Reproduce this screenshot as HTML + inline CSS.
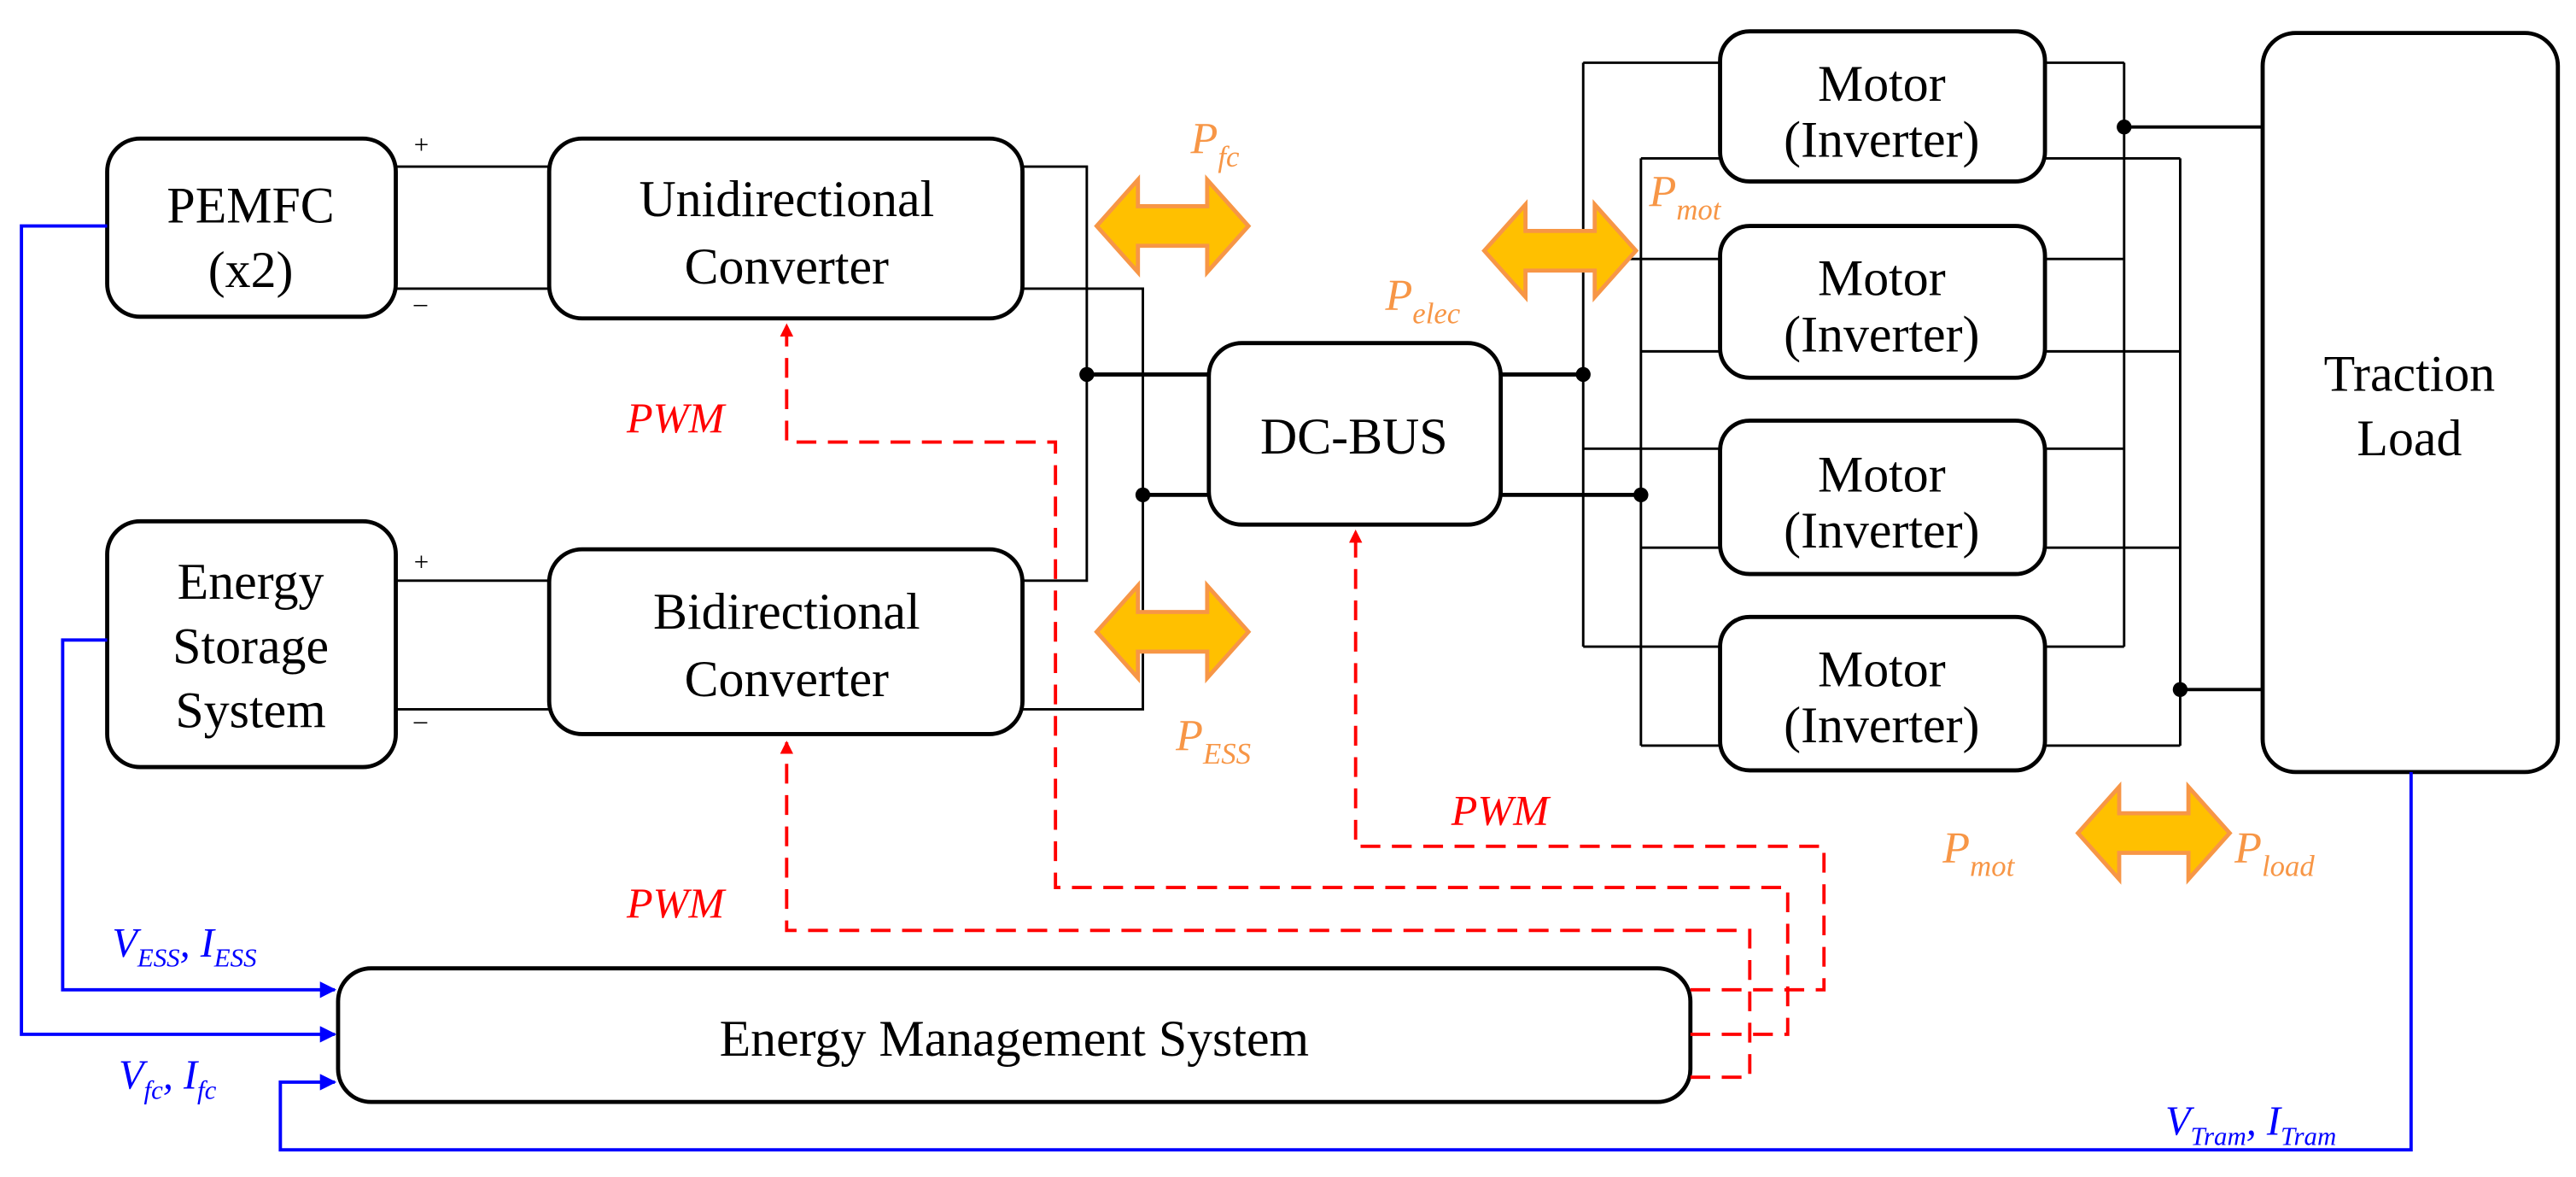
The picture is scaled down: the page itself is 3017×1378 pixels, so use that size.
<!DOCTYPE html>
<html><head><meta charset="utf-8"><style>html,body{margin:0;padding:0;background:#fff}svg{display:block}</style></head>
<body>
<svg width="3017" height="1378" viewBox="0 0 1562 713.5" preserveAspectRatio="none" xmlns="http://www.w3.org/2000/svg" font-family="'Liberation Serif', serif">
<defs>
<marker id="ar" markerWidth="8" markerHeight="8" refX="7" refY="4" orient="auto" markerUnits="userSpaceOnUse"><path d="M0,0 L8,4 L0,8 Z" fill="#ff0000"/></marker>
<marker id="ab" markerWidth="10" markerHeight="10" refX="9" refY="5" orient="auto" markerUnits="userSpaceOnUse"><path d="M0,0 L10,5 L0,10 Z" fill="#0000ff"/></marker>
</defs>
<g fill="none" stroke="#000" stroke-width="1.5">
<path d="M240,101H333 M240,175H333 M240,352H333 M240,430H333"/>
<path d="M620,101H659V352H620 M620,175H693V430H620"/>
<path d="M659,227H733 M693,300H733 M910,227H960 M910,300H995" stroke-width="2.5"/>
<path d="M960,38V392 M995,96V452"/>
<path d="M960,38H1043 M995,96H1043 M960,157H1043 M995,213H1043 M960,272H1043 M995,332H1043 M960,392H1043 M995,452H1043"/>
<path d="M1288,38V392 M1322,96V452"/>
<path d="M1240,38H1288 M1240,96H1322 M1240,157H1288 M1240,213H1322 M1240,272H1288 M1240,332H1322 M1240,392H1288 M1240,452H1322"/>
<path d="M1288,77H1372 M1322,418H1372" stroke-width="2"/>
</g>
<g fill="#000">
<circle cx="659" cy="227" r="4.5"/><circle cx="693" cy="300" r="4.5"/>
<circle cx="960" cy="227" r="4.5"/><circle cx="995" cy="300" r="4.5"/>
<circle cx="1288" cy="77" r="4.5"/><circle cx="1322" cy="418" r="4.5"/>
</g>
<g fill="#fff" stroke="#000" stroke-width="2.5">
<rect x="65" y="84" width="175" height="108" rx="20"/>
<rect x="333" y="84" width="287" height="109" rx="20"/>
<rect x="65" y="316" width="175" height="149" rx="20"/>
<rect x="333" y="333" width="287" height="112" rx="20"/>
<rect x="733" y="208" width="177" height="110" rx="20"/>
<rect x="1043" y="19" width="197" height="91" rx="18"/>
<rect x="1043" y="137" width="197" height="92" rx="18"/>
<rect x="1043" y="255" width="197" height="93" rx="18"/>
<rect x="1043" y="374" width="197" height="93" rx="18"/>
<rect x="1372" y="20" width="179" height="448" rx="20"/>
<rect x="205" y="587" width="820" height="81" rx="20"/>
</g>
<g font-size="31" text-anchor="middle" fill="#000">
<text x="152" y="135">PEMFC</text><text x="152" y="174">(x2)</text>
<text x="477" y="131">Unidirectional</text><text x="477" y="172">Converter</text>
<text x="152" y="363">Energy</text><text x="152" y="402">Storage</text><text x="152" y="441">System</text>
<text x="477" y="381">Bidirectional</text><text x="477" y="422">Converter</text>
<text x="821" y="275">DC-BUS</text>
<text x="1141" y="61">Motor</text><text x="1141" y="95">(Inverter)</text>
<text x="1141" y="179">Motor</text><text x="1141" y="213">(Inverter)</text>
<text x="1141" y="298">Motor</text><text x="1141" y="332">(Inverter)</text>
<text x="1141" y="416">Motor</text><text x="1141" y="450">(Inverter)</text>
<text x="1461" y="237">Traction</text><text x="1461" y="276">Load</text>
<text x="615" y="640">Energy Management System</text>
</g>
<g font-size="16" fill="#000"><text x="251" y="93">+</text><text x="251" y="189">–</text><text x="251" y="346">+</text><text x="251" y="442">–</text></g>
<g fill="#ffc000" stroke="#f79646" stroke-width="2.5">
<path d="M665,137 L690,109 L690,125 L732,125 L732,109 L757,137 L732,165 L732,149 L690,149 L690,165 Z"/>
<path d="M665,383 L690,355 L690,371 L732,371 L732,355 L757,383 L732,411 L732,395 L690,395 L690,411 Z"/>
<path d="M900,152 L925,124 L925,140 L967,140 L967,124 L992,152 L967,180 L967,164 L925,164 L925,180 Z"/>
<path d="M1260,505 L1285,477 L1285,493 L1327,493 L1327,477 L1352,505 L1327,533 L1327,517 L1285,517 L1285,533 Z"/>
</g>
<g font-size="27" font-style="italic" fill="#f79646">
<text x="722" y="93">P<tspan font-size="18" dy="8">fc</tspan></text>
<text x="1000" y="125">P<tspan font-size="18" dy="8">mot</tspan></text>
<text x="840" y="188">P<tspan font-size="18" dy="8">elec</tspan></text>
<text x="713" y="455">P<tspan font-size="18" dy="8">ESS</tspan></text>
<text x="1178" y="523">P<tspan font-size="18" dy="8">mot</tspan></text>
<text x="1355" y="523">P<tspan font-size="18" dy="8">load</tspan></text>
</g>
<g fill="none" stroke="#ff0000" stroke-width="2" stroke-dasharray="12,7">
<path d="M1025,627H1084V538H640V268H477V197" marker-end="url(#ar)"/>
<path d="M1025,653H1061V564H477V450" marker-end="url(#ar)"/>
<path d="M1025,600H1106V513H822V322" marker-end="url(#ar)"/>
</g>
<g font-size="26" font-style="italic" fill="#ff0000">
<text x="380" y="262">PWM</text><text x="880" y="500">PWM</text><text x="380" y="556">PWM</text>
</g>
<g fill="none" stroke="#0000ff" stroke-width="2">
<path d="M65,137H13V627H203" marker-end="url(#ab)"/>
<path d="M65,388H38V600H203" marker-end="url(#ab)"/>
<path d="M1462,468V697H170V656H203" marker-end="url(#ab)"/>
</g>
<g font-size="25" font-style="italic" fill="#0000ff">
<text x="68" y="580">V<tspan font-size="16" dy="6">ESS</tspan><tspan dy="-6">, I</tspan><tspan font-size="16" dy="6">ESS</tspan></text>
<text x="72" y="660">V<tspan font-size="16" dy="6">fc</tspan><tspan dy="-6">, I</tspan><tspan font-size="16" dy="6">fc</tspan></text>
<text x="1313" y="688">V<tspan font-size="16" dy="6">Tram</tspan><tspan dy="-6">, I</tspan><tspan font-size="16" dy="6">Tram</tspan></text>
</g>
</svg>
</body></html>
